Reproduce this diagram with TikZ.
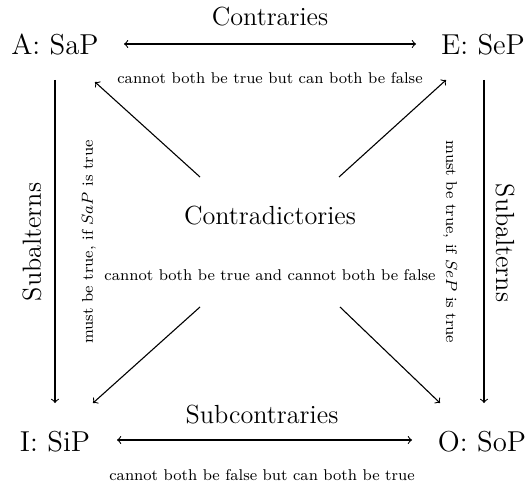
\documentclass[tikz,border=0pt]{standalone}
\begin{document}
\begin{tikzpicture}[x=0.5pt,y=-0.5pt,
  corner/.style={font=\fontsize{14.4}{17}\selectfont, inner sep=0pt},
  rel/.style={font=\fontsize{13.1}{15}\selectfont, inner sep=0pt},
  note/.style={font=\fontsize{7.8}{9}\selectfont, inner sep=0pt},
  conn/.style={line width=0.55pt}]
\useasboundingbox (0,0) rectangle (528,486);
% corner nodes
\node[corner] (A) at (55,45) {A: SaP};
\node[corner] (E) at (483,45) {E: SeP};
\node[corner] (I) at (55,442) {I: SiP};
\node[corner] (O) at (482,442) {O: SoP};
% relation labels
\node[rel] (contraries) at (270,17) {Contraries};
\node[rel] (subcontraries) at (262,415) {Subcontraries};
\node[rel] (contradictories) at (270,216) {Contradictories};
\node[rel, rotate=90] (subL) at (32,242) {Subalterns};
\node[rel, rotate=-90] (subR) at (505,243) {Subalterns};
% notes
\node[note] (ntop) at (270,78) {cannot both be true but can both be false};
\node[note] (nmid) at (270,275) {cannot both be true and cannot both be false};
\node[note] (nbot) at (262,475) {cannot both be false but can both be true};
\node[note, rotate=90] (nL) at (89,242) {must be true, if $SaP$ is true};
\node[note, rotate=-90] (nR) at (450,242) {must be true, if $SeP$ is true};
% connector end points
\coordinate (ae) at (124,44);
\coordinate (ew) at (416,44);
\coordinate (iw) at (117,440);
\coordinate (ow) at (412,440);
\coordinate (as) at (55,80);
\coordinate (in) at (55,403);
\coordinate (es) at (484,80);
\coordinate (on) at (484,403);
\coordinate (tl) at (200,177);
\coordinate (tr) at (339,177);
\coordinate (bl) at (200,307);
\coordinate (br) at (340,307);
\coordinate (ahead) at (95,82);
\coordinate (ehead) at (446,80);
\coordinate (ihead) at (93,403);
\coordinate (ohead) at (440,403);
% connectors
\draw[conn,<->] (ae) -- (ew);
\draw[conn,<->] (iw) -- (ow);
\draw[conn,->] (as) -- (in);
\draw[conn,->] (es) -- (on);
\draw[conn,->] (tl) -- (ahead);
\draw[conn,->] (tr) -- (ehead);
\draw[conn,->] (bl) -- (ihead);
\draw[conn,->] (br) -- (ohead);
\end{tikzpicture}
\end{document}
